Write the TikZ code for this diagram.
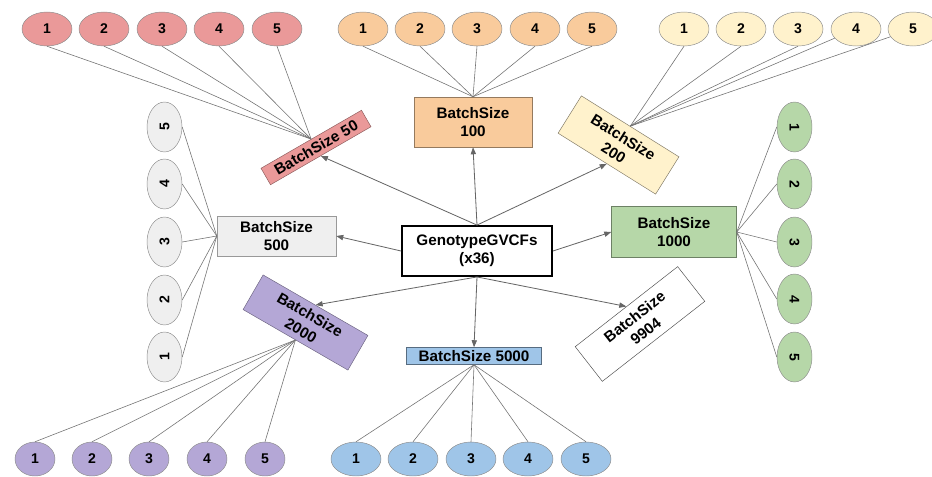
\documentclass[tikz,border=0pt]{standalone}
\usepackage{fontspec}
\setmainfont{Liberation Sans}
\usepackage{xcolor}
\usetikzlibrary{shapes.geometric, arrows.meta}

\definecolor{rojo}{HTML}{EA9999}
\definecolor{naranja}{HTML}{F9CB9C}
\definecolor{amarillo}{HTML}{FFF2CC}
\definecolor{verde}{HTML}{B6D7A8}
\definecolor{azul}{HTML}{9FC5E8}
\definecolor{morado}{HTML}{B4A7D6}
\definecolor{gris}{HTML}{EFEFEF}

\tikzset{
  elipse/.style={ellipse, draw=black!45, inner sep=0pt, font=\bfseries\fontsize{12}{12}\selectfont},
  caja/.style={draw=black!50, align=center, inner sep=1pt, font=\bfseries\fontsize{13}{15.5}\selectfont},
  hijo/.style={draw=black!55, line width=0.5pt},
  flecha/.style={draw=black!60, line width=0.7pt, -{Triangle[length=6pt, width=4.5pt]}}
}

\begin{document}
\begin{tikzpicture}[x=0.03cm, y=-0.03cm]
    \useasboundingbox (0,0) rectangle (932,476);

    % Nodo central
    \node[caja, draw=black, line width=1.6pt, minimum width=4.5cm, minimum height=1.5cm] (g) at (477,251) {GenotypeGVCFs\\(x36)};

    % Cajas de cada BatchSize
    \node[caja, fill=rojo, draw=rojo!60!black, rotate=30, minimum width=3.48cm, minimum height=0.57cm] (b50) at (316,147.5) {BatchSize 50};
    \node[caja, fill=naranja, draw=naranja!60!black, minimum width=3.54cm, minimum height=1.5cm] (b100) at (473,122) {BatchSize\\100};
    \node[caja, fill=amarillo, draw=amarillo!50!black, rotate=-32, minimum width=3.45cm, minimum height=1.32cm] (b200) at (618.5,145) {BatchSize\\200};
    \node[caja, fill=gris, draw=black!40, minimum width=3.57cm, minimum height=1.2cm] (b500) at (276.5,236) {BatchSize\\500};
    \node[caja, fill=verde, draw=verde!60!black, minimum width=3.75cm, minimum height=1.53cm] (b1000) at (674,232) {BatchSize\\1000};
    \node[caja, fill=morado, draw=morado!60!black, rotate=-30, minimum width=3.63cm, minimum height=1.2cm] (b2000) at (305.5,322.5) {BatchSize\\2000};
    \node[caja, fill=azul, draw=azul!55!black, minimum width=4.05cm, minimum height=0.51cm] (b5000) at (474,356) {BatchSize 5000};
    \node[caja, fill=white, draw=black!70, rotate=38, minimum width=3.9cm, minimum height=1.32cm] (b9904) at (640,324) {BatchSize\\9904};

    % Flechas desde el nodo central
    \draw[flecha] (g.north) -- (b50.south);
    \draw[flecha] (g.north) -- (b100.south);
    \draw[flecha] (g.north) -- (b200.south);
    \draw[flecha] (g.west) -- (b500.east);
    \draw[flecha] (g.east) -- (b1000.west);
    \draw[flecha] (g.south) -- (b2000.north);
    \draw[flecha] (g.south) -- (b5000.north);
    \draw[flecha] (g.south) -- (b9904.north);

    % Elipses de arriba
    \foreach \i/\x in {1/47, 2/104, 3/162, 4/219, 5/277}
        \node[elipse, fill=rojo, minimum width=1.5cm, minimum height=1.02cm] (r\i) at (\x,29) {\i};
    \foreach \i/\x in {1/363, 2/420, 3/477, 4/535, 5/592}
        \node[elipse, fill=naranja, minimum width=1.5cm, minimum height=1.02cm] (n\i) at (\x,29) {\i};
    \foreach \i/\x in {1/684, 2/741, 3/798, 4/856, 5/913}
        \node[elipse, fill=amarillo, minimum width=1.5cm, minimum height=1.02cm] (a\i) at (\x,29) {\i};

    % Elipses de los lados
    \foreach \i/\y in {5/127, 4/184, 3/242, 2/300, 1/357}
        \node[elipse, fill=gris, minimum width=1.05cm, minimum height=1.5cm] (s\i) at (164.5,\y) {\rotatebox{90}{\i}};
    \foreach \i/\y in {1/127, 2/184, 3/242, 4/299, 5/357}
        \node[elipse, fill=verde, minimum width=1.05cm, minimum height=1.5cm] (v\i) at (794.5,\y) {\rotatebox{-90}{\i}};

    % Elipses de abajo
    \foreach \i/\x in {1/35, 2/92, 3/149, 4/207, 5/265}
        \node[elipse, fill=morado, minimum width=1.2cm, minimum height=1.02cm] (m\i) at (\x,459) {\i};
    \foreach \i/\x in {1/356, 2/413, 3/471, 4/528, 5/586}
        \node[elipse, fill=azul, minimum width=1.5cm, minimum height=1.02cm] (z\i) at (\x,459) {\i};

    % Lineas hacia cada hijo
    \foreach \i in {1,...,5} {
        \draw[hijo] (r\i.south) -- (b50.north);
        \draw[hijo] (n\i.south) -- (b100.north);
        \draw[hijo] (s\i.east) -- (b500.west);
        \draw[hijo] (b1000.east) -- (v\i.west);
        \draw[hijo] (b2000.south) -- (m\i.north);
        \draw[hijo] (b5000.south) -- (z\i.north);
    }
    \foreach \i in {1,2,3}
        \draw[hijo] (a\i.south) -- (b200.north);
    \foreach \i in {4,5}
        \draw[hijo] (a\i) -- (b200.north);

\end{tikzpicture}
\end{document}
